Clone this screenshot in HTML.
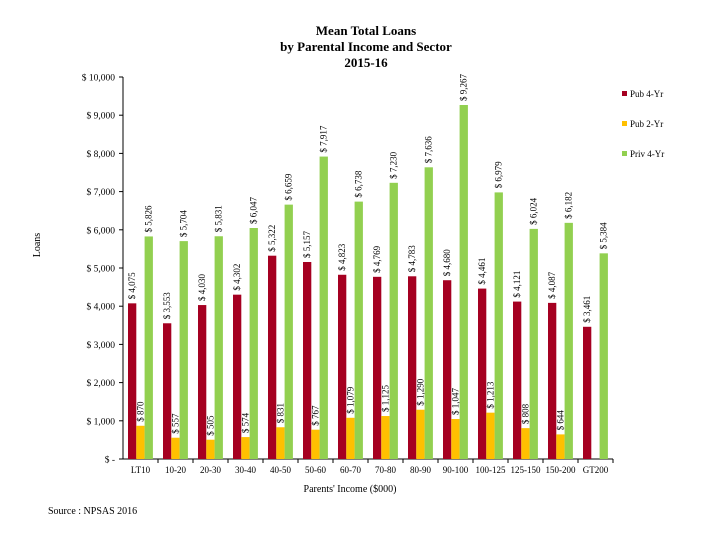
<!DOCTYPE html>
<html><head><meta charset="utf-8"><style>
body{margin:0;background:#fff;}
svg{font-family:"Liberation Serif",serif;}
</style></head><body>
<svg width="720" height="540">
<g id="title" font-size="13" font-weight="bold" text-anchor="middle">
<text x="366" y="35">Mean Total Loans</text>
<text x="366" y="51">by Parental Income and Sector</text>
<text x="366" y="67">2015-16</text>
</g>
<text x="40" y="245" font-size="10" text-anchor="middle" transform="rotate(-90 40 245)">Loans</text>
<text x="350" y="492" font-size="10" text-anchor="middle">Parents' Income ($000)</text>
<text x="48" y="514" font-size="10">Source : NPSAS 2016</text>
<g id="axes"></g><g id="bars"></g><g id="legend"></g>
</svg>
<script>
const categories=["LT10","10-20","20-30","30-40","40-50","50-60","60-70","70-80","80-90","90-100","100-125","125-150","150-200","GT200"];
const pub4=[4075,3553,4030,4302,5322,5157,4823,4769,4783,4680,4461,4121,4087,3461];
const pub2=[870,557,505,574,831,767,1079,1125,1290,1047,1213,808,644,null];
const priv4=[5826,5704,5831,6047,6659,7917,6738,7230,7636,9267,6979,6024,6182,5384];
const yTicks=[0,1000,2000,3000,4000,5000,6000,7000,8000,9000,10000];
const seriesNames=["Pub 4-Yr","Pub 2-Yr","Priv 4-Yr"];
const colors=["#a50021","#ffc000","#92d050"];
const X0=123,X1=613,Y0=459,Y1=77,YMAX=10000;
const ns="http://www.w3.org/2000/svg";
function y(v){return Y0-(v/YMAX)*(Y0-Y1);}
const bw=(X1-X0)/categories.length;
function x(i){return X0+i*bw;}
function mk(tag,attrs,parent){const e=document.createElementNS(ns,tag);for(const k in attrs)e.setAttribute(k,attrs[k]);parent.appendChild(e);return e;}
function fmt(v){return v===0?"$ -":"$ "+v.toLocaleString("en-US");}
const axes=document.getElementById("axes"),bars=document.getElementById("bars"),legend=document.getElementById("legend");
let l=mk("line",{x1:X0,y1:Y1,x2:X0,y2:Y0,stroke:"#000"},axes);


l=mk("line",{x1:X0,y1:Y0,x2:X1,y2:Y0,stroke:"#000"},axes);


yTicks.forEach(t=>{
 mk("line",{x1:X0-4,y1:y(t),x2:X0,y2:y(t),stroke:"#000"},axes);
 const tx=mk("text",{x:X0-8,y:y(t)+3.5,"font-size":9.5,"text-anchor":"end"},axes);
 tx.textContent=fmt(t);
 
 
});
categories.forEach((c,i)=>{
 mk("line",{x1:x(i+1),y1:Y0,x2:x(i+1),y2:Y0+4,stroke:"#000"},axes);
 const tx=mk("text",{x:x(i)+bw/2,y:Y0+14,"font-size":9,"text-anchor":"middle"},axes);
 tx.textContent=c;
 
 
 [pub4,pub2,priv4].forEach((s,k)=>{
  const v=s[i]; if(v==null) return;
  const bx=x(i)+5+k*8.3;
  const r=mk("rect",{x:bx,y:y(v),width:8.3,height:Y0-y(v),fill:colors[k]},bars);
  
  
  const lx=bx+7,ly=y(v)-4;
  const t=mk("text",{x:lx,y:ly,"font-size":9,transform:`rotate(-90 ${lx} ${ly})`},bars);
  t.textContent=fmt(v);
  
  
 });
});
seriesNames.forEach((n,k)=>{
 const ly=95+k*30;
 const r=mk("rect",{x:622,y:ly-4,width:5,height:5,fill:colors[k]},legend);
 
 
 const t=mk("text",{x:630,y:ly+2,"font-size":9},legend);
 t.textContent=n;
 
 
});
</script>
</body></html>
